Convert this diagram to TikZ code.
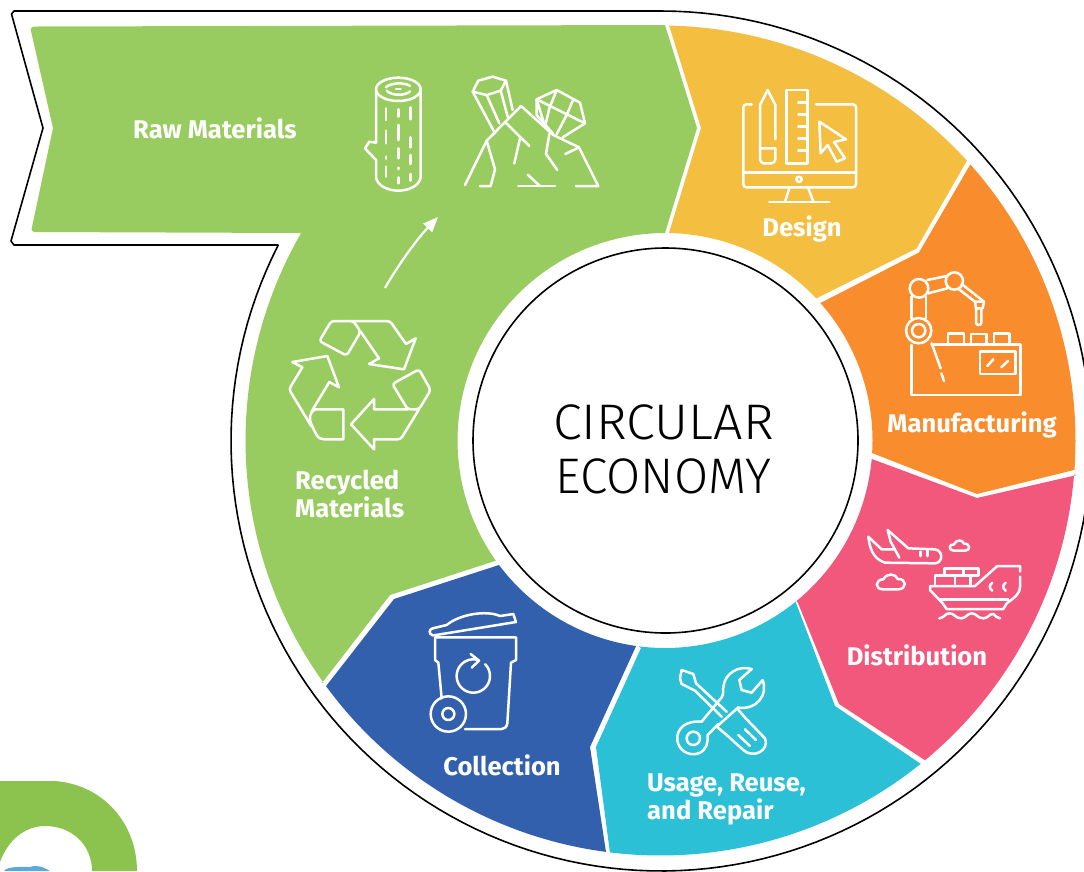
\documentclass[tikz,border=0pt]{standalone}
\usepackage{fontspec}
\setmainfont{Fira Sans}
\newfontfamily\lightf{Fira Sans Light}
\usetikzlibrary{arrows.meta}
\definecolor{cgreen}{HTML}{99CC60}
\definecolor{cyellow}{HTML}{F4BE41}
\definecolor{corange}{HTML}{F98D2D}
\definecolor{cpink}{HTML}{F2587C}
\definecolor{ccyan}{HTML}{2BC0D5}
\definecolor{cblue}{HTML}{3260AC}
\definecolor{clogo}{HTML}{8CC34F}
\definecolor{clogob}{HTML}{5AA9DD}
\newcommand{\outerarc}[2]{-- plot[domain=#1:#2,samples=70] ({660.5+415*cos(\x)},{440.5+415*sin(\x)})}
\newcommand{\innerarc}[2]{-- plot[domain=#1:#2,samples=50] ({665+207.5*cos(\x)},{440.5+207.5*sin(\x)})}
\newcommand{\blackarc}[2]{-- plot[domain=#1:#2,samples=160] ({661+430*cos(\x)},{441+430*sin(\x)})}
\tikzset{
 zoomed/.style={x=.33333pt,y=-.33333pt},
 icon/.style={draw=white,line width=2.5pt,line cap=round,line join=round},
 lab/.style={text=white,font=\fontsize{25.6}{28}\selectfont\bfseries,inner sep=0pt},
 title/.style={text=black,font=\fontsize{50}{54}\selectfont\lightf,inner sep=0pt}
}
\begin{document}
\begin{tikzpicture}[x=1pt,y=-1pt]
\useasboundingbox (0,0) rectangle (1084,871);
\begin{scope}
\clip (0,0) rectangle (1084,871);
% black outlines
\draw[black,line width=1.6pt,line join=round]
 (661,11) -- (14,11) -- (11.5,14) -- (43,128) -- (11,241) -- (14,245) -- (278,245) \blackarc{207.1}{-90};
% segments
\fill[cgreen] (36,26.5) -- (665,25) -- (697,128) -- (665,233) \innerarc{270}{144.6} -- (390,595) -- (322,683) \outerarc{144.3}{210} -- (36,232) .. controls (32,232) and (31,230) .. (32,227) -- (53,128) -- (31,31) .. controls (30,28) and (32,26.5) .. (36,26.5) -- cycle;
\fill[cyellow] (669,25) \outerarc{-88.8}{-42.4} -- (916.5,248.5) -- (817,298) \innerarc{-43.2}{-88.9} -- (701,128) -- cycle;
\fill[corange] (970,165) \outerarc{-41.7}{4.06} -- (977,494) -- (872,453) \innerarc{3.5}{-41.5} -- (919,252.5) -- cycle;
\fill[cpink] (1077,475) \outerarc{4.7}{50.4} -- (839,704) -- (798,603) \innerarc{50.7}{5.1} -- (977,498) -- cycle;
\fill[ccyan] (921,764) \outerarc{51.2}{97} -- (596,747) -- (641,648) \innerarc{97.4}{51} -- (835,706) -- cycle;
\fill[cblue] (606,852) \outerarc{97.5}{143.7} -- (394,599) -- (499,565) \innerarc{143.1}{98} -- (590,747) -- cycle;
% centre
\node[circle,draw=black,fill=white,line width=1.6pt,minimum size=385pt,inner sep=0pt] (hub) at (665.5,440.5) {};
\node[title] (t1) at (663.5,422) {\scalebox{1.04}[1]{CIRCULAR}};
\node[title] (t2) at (663.5,476) {\scalebox{.99}[1]{ECONOMY}};
% labels
\node[lab] (raw) at (215,128) {Raw Materials};
\node[lab] (des) at (802,229) {Design};
\node[lab] (man) at (972,425) {Manufacturing};
\node[lab] (dis) at (917,655) {Distribution};
\node[lab] (col) at (502,765) {Collection};
\node[lab,align=left,anchor=west] (usa) at (647,799) {Usage, Reuse,\\and Repair};
\node[lab,align=left,anchor=west] (rec) at (295,494) {Recycled\\Materials};
% curved arrow
\coordinate (as) at (385,288);
\coordinate (ae) at (438,217);
\draw[white,line width=2.2pt,-{Triangle[length=15pt,width=12pt]}] (as) .. controls (400,262) and (418,238) .. (ae);
% logo fragment
\fill[clogo] (0,781) -- (55,781) .. controls (105,785) and (137,825) .. (137,871) -- (92,871) .. controls (92,845) and (72,826) .. (45,826) .. controls (25,826) and (8,840) .. (0,862) -- cycle;
\fill[clogob] (4,871) .. controls (8,866) and (20,867) .. (30,867) .. controls (38,864) and (45,868) .. (50,871) -- cycle;
\end{scope}
% raw material icons
\begin{scope}[shift={(340,60)},zoomed,icon]
\draw (175,88) ellipse [x radius=67,y radius=35];
\draw (138,82) .. controls (150,68) and (195,66) .. (210,78);
\draw (140,92) .. controls (155,108) and (195,108) .. (210,94);
\draw (168,87) -- (182,87);
\draw (108,88) -- (108,248) -- (88,245) -- (75,265) -- (108,300) -- (108,352) .. controls (112,378) and (145,392) .. (175,392) .. controls (205,392) and (238,378) .. (242,352) -- (242,88);
\foreach \a/\b in {145/180,212/250,290/296,320/350} \draw (138,\a) -- (138,\b);
\foreach \a/\b in {148/170,195/240,265/295,323/327,352/370} \draw (175,\a) -- (175,\b);
\foreach \a/\b in {142/178,232/262,285/312,342/362} \draw (212,\a) -- (212,\b);
\draw (398,95) -- (415,62) -- (458,50) -- (498,62) -- (482,92) -- (440,105) -- cycle;
\draw (398,95) -- (465,220);
\draw (440,105) -- (478,190);
\draw (482,92) -- (503,170);
\draw (498,62) -- (518,150);
\draw (375,375) -- (440,242) -- (543,138) -- (640,225) -- (717,262) -- (775,378) -- (708,378);
\draw (440,242) -- (465,328) -- (452,378) -- (420,378);
\draw (497,188) -- (568,258);
\draw (540,235) -- (523,310);
\draw (615,200) -- (590,118) -- (650,90) -- (720,128) -- (735,190) -- (668,232);
\draw (590,118) -- (590,165) -- (640,222);
\draw (590,118) -- (735,190);
\draw (650,90) -- (628,145) -- (615,200);
\draw (700,118) -- (680,165) -- (650,222);
\draw (628,222) -- (618,282) -- (652,330);
\draw (717,262) -- (676,282);
\draw (563,344) -- (600,378);
\draw (535,378) -- (645,378);
\end{scope}
% design and manufacturing icons
\begin{scope}[shift={(730,80)},zoomed,icon]
\draw[rounded corners=3pt] (65,73) -- (40,73) -- (40,322) -- (378,322) -- (378,73) -- (258,73);
\draw (40,278) -- (378,278);
\draw (207,298) circle [radius=8];
\draw (178,325) -- (165,365);
\draw (235,325) -- (250,365);
\draw (118,366) -- (298,366);
\draw (136,178) -- (136,75) -- (113,30) -- (90,75) -- (90,205) -- (136,205);
\draw[rounded corners=4pt] (90,205) -- (90,250) -- (136,250) -- (136,205);
\draw (170,30) rectangle (232,250);
\foreach \y in {68,103,140,176,212} \draw (232,\y) -- (205,\y);
\draw (268,125) -- (348,178) -- (312,186) -- (345,235) -- (320,245) -- (293,195) -- (272,220) -- cycle;
% robot
\draw (566,752) circle [radius=38];
\draw (566,752) circle [radius=20];
\draw (567,625) circle [radius=28];
\draw (673,603) circle [radius=26];
\draw (545,650) -- (545,715);
\draw (588,650) -- (588,715);
\draw (592,600) -- (650,588);
\draw (594,640) -- (652,625);
\draw (695,612) -- (762,665);
\draw (687,628) -- (735,665);
\draw (735,665) -- (762,665) -- (758,685) -- (738,685) -- cycle;
\draw[rounded corners=2.5pt] (738,685) -- (738,735) -- (754,735) -- (754,685);
\draw (605,793) -- (872,793) -- (872,945) -- (545,945) -- (545,795);
\draw (654,793) -- (654,760) -- (702,760) -- (702,793);
\draw (723,793) -- (723,762) -- (770,762) -- (770,793);
\draw (792,793) -- (792,760) -- (838,760) -- (838,793);
\draw (750,815) rectangle (857,882);
\draw (772,858) -- (790,838);
\draw (814,862) -- (835,842);
\draw (605,790) -- (632,865);
\draw (634,880) -- (642,903);
\end{scope}
% distribution icons
\begin{scope}[shift={(850,510)},zoomed,icon]
\draw (113,60) -- (175,115) -- (255,118) .. controls (280,122) and (280,158) .. (255,160) -- (105,158) .. controls (80,150) and (60,130) .. (55,80) -- (95,118) -- (133,118);
\draw (113,60) -- (122,95) -- (148,143);
\draw (212,125) -- (212,138);
\draw (232,122) -- (232,138);
\draw (312,122) .. controls (295,122) and (295,102) .. (312,103) .. controls (318,88) and (338,88) .. (342,101) .. controls (362,100) and (362,122) .. (345,122) -- cycle;
\draw (100,238) .. controls (72,238) and (76,208) .. (100,208) .. controls (110,188) and (138,190) .. (143,207) .. controls (172,205) and (170,238) .. (145,238) -- cycle;
\draw (510,185) -- (510,168) -- (442,168) -- (375,228) -- (240,228) -- (240,240) -- (278,280) -- (290,297) -- (460,297) -- (470,280) .. controls (495,262) and (510,250) .. (510,232) -- (510,200);
\draw (270,268) -- (475,268);
\draw (255,222) -- (255,197) -- (283,197) -- (283,175) -- (385,175) -- (385,197) -- (362,197) -- (362,225);
\draw (283,197) -- (362,197);
\draw (315,197) -- (315,222);
\draw (340,175) -- (340,197);
\draw (427,218) .. controls (417,225) and (417,235) .. (427,242);
\draw (467,218) .. controls (457,225) and (457,235) .. (467,242);
\draw (268,325) .. controls (285,322) and (285,310) .. (298,310) .. controls (315,310) and (315,325) .. (333,325) .. controls (348,325) and (352,310) .. (365,310) .. controls (380,310) and (382,325) .. (400,325) .. controls (415,325) and (418,310) .. (430,312) .. controls (438,318) and (442,325) .. (450,325);
\end{scope}
% collection and usage icons
\begin{scope}[shift={(410,600)},zoomed,icon]
\draw (78,105) -- (68,106) .. controls (56,102) and (56,88) .. (68,85) -- (110,75) .. controls (150,42) and (230,30) .. (270,48) -- (310,42) -- (318,66) -- cycle;
\draw (95,295) -- (85,188) -- (75,180) -- (75,112) -- (318,112) -- (318,180) -- (303,188) -- (292,370) .. controls (290,382) and (282,387) .. (275,387) -- (165,387);
\draw (115,342) circle [radius=53];
\draw (115,342) circle [radius=18];
\draw plot[domain=-45:288,samples=50] ({190+50*cos(\x)},{228+50*sin(\x)});
\draw (182,162) -- (207,182) -- (185,203);
% wrench
\draw (1025,207) .. controls (985,195) and (945,220) .. (940,260) .. controls (938,272) and (942,282) .. (935,292) -- (875,365) .. controls (830,360) and (798,385) .. (802,420) .. controls (805,450) and (835,470) .. (865,460) .. controls (890,452) and (895,425) .. (893,405) -- (925,372);
\draw (1025,207) -- (988,240) -- (995,270) -- (1025,278) -- (1058,240) .. controls (1075,285) and (1040,330) .. (985,323);
\draw (850,415) circle [radius=20];
% screwdriver
\draw (815,210) -- (850,222) -- (858,250) -- (950,335);
\draw (815,210) -- (810,235) -- (815,252) -- (855,272) -- (935,350);
\draw (985,322) -- (920,380) -- (950,405) -- (1000,450) .. controls (1030,478) and (1080,450) .. (1065,415) -- (1010,358) -- (985,330);
\draw (985,405) -- (1020,438);
\draw (1005,388) -- (1038,420);
\end{scope}
% recycle icon
\begin{scope}[shift={(270,210)},zoomed,icon]
\draw[rounded corners=3pt] (148,393) -- (184,333) -- (250,333) -- (272,365) -- (230,437) -- cycle;
\draw[rounded corners=3pt] (240,333) -- (360,333) -- (408,402);
\draw (408,402) -- (437,385) -- (402,478) -- (297,462) -- (327,445) -- (272,365);
\draw[rounded corners=3pt] (367,522) -- (447,478) -- (482,540) -- (447,598) -- (413,598) -- cycle;
\draw[rounded corners=3pt] (447,598) -- (392,688) -- (312,688);
\draw (312,688) -- (312,718) -- (243,643) -- (312,567) -- (312,598) -- (413,598);
\draw (172,438) -- (67,456) -- (97,472);
\draw[rounded corners=3pt] (97,472) -- (57,538) -- (125,650);
\draw (172,438) -- (207,532) -- (178,516) -- (125,604);
\draw (220,598) -- (135,598) .. controls (120,605) and (115,625) .. (125,645) -- (138,672) .. controls (145,684) and (152,688) .. (162,688) -- (220,688) -- cycle;
\end{scope}
\end{tikzpicture}
\end{document}
